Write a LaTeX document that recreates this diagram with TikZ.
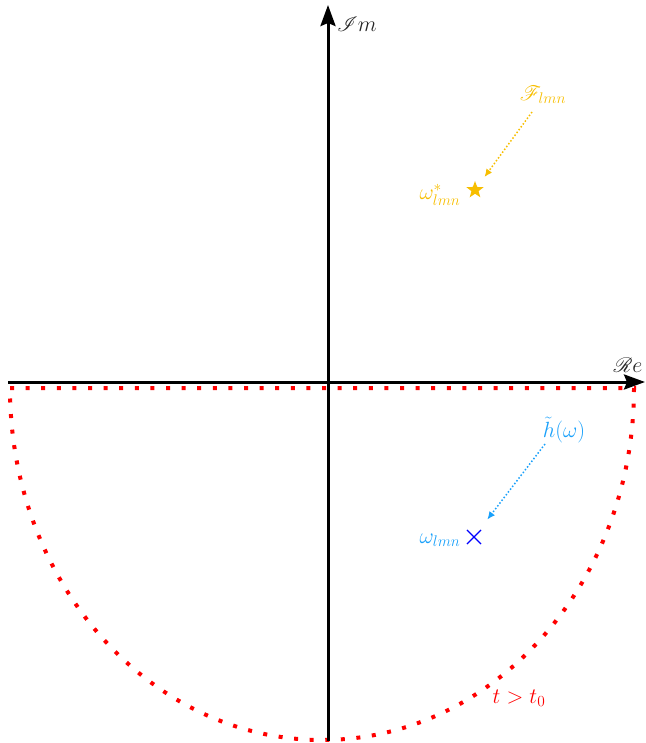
\documentclass[tikz,border=0pt]{standalone}
\usepackage{fix-cm}
\usepackage{mathrsfs}
\usetikzlibrary{arrows.meta,shapes.geometric,shapes.misc,calc}
\definecolor{gold}{RGB}{247,190,0}
\definecolor{skyb}{RGB}{25,160,250}
\tikzset{
  axis/.style={line width=3pt,-{Stealth[length=21pt,width=15pt,inset=3pt]}},
  lbl/.style={inner sep=0pt,font=\fontsize{22}{26}\selectfont},
  ptr/.style={line width=1.5pt,dotted,-{Latex[length=8pt,width=7pt]}},
  contour/.style={red,line width=4pt,dash pattern=on 4pt off 11.6pt}
}
\begin{document}
\begin{tikzpicture}[x=1pt,y=-1pt]
\useasboundingbox (0,0) rectangle (645,743);
% contour
\draw[contour] (10,388) -- (634,388) arc[start angle=0,end angle=180,x radius=312,y radius=352];
% axes
\coordinate (xs) at (8,382);
\coordinate (xe) at (645,382);
\coordinate (ys) at (328,741);
\coordinate (ye) at (328,5);
\draw[axis] (xs) -- (xe);
\draw[axis] (ys) -- (ye);
\node[lbl,text=black!85] (im) at (357,24) {$\mathscr{I}m$};
\node[lbl,text=black!85] (re) at (628,365) {$\mathscr{R}e$};
% QNM conjugate
\node[star,star points=5,star point ratio=2.4,fill=gold,inner sep=0pt,minimum size=18pt] (st) at (475,190) {};
\node[lbl,text=gold] (ws) at (440,195) {$\omega^*_{lmn}$};
\node[lbl,text=gold] (F) at (543,95) {$\mathscr{F}_{lmn}$};
\coordinate (Fa) at ($(F)+(-11,17)$);
\draw[ptr,gold,shorten >=12pt] (Fa) -- (st);
% QNM
\node[cross out,draw=blue,line width=1.1pt,inner sep=0pt,minimum size=13pt] (cr) at (474,537) {};
\node[lbl,text=skyb] (w) at (440,540) {$\omega_{lmn}$};
\node[lbl,text=skyb] (h) at (564,430) {$\tilde{h}(\omega)$};
\coordinate (ha) at ($(h)+(-19,14)$);
\draw[ptr,skyb,shorten >=13pt] (ha) -- (cr);
\node[lbl,text=red] (t) at (519,698) {$t>t_0$};
\end{tikzpicture}
\end{document}
